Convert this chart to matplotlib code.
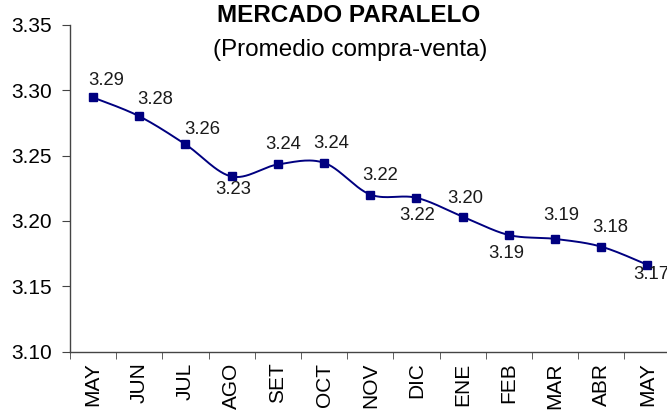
import numpy as np
import matplotlib
matplotlib.use("Agg")
import matplotlib.pyplot as plt

months = ["MAY", "JUN", "JUL", "AGO", "SET", "OCT", "NOV", "DIC", "ENE", "FEB", "MAR", "ABR", "MAY"]
values = [3.2945, 3.2801, 3.2586, 3.2340, 3.2432, 3.2445, 3.2202, 3.2177, 3.2033, 3.1892, 3.1862, 3.1803, 3.1664]
yticks = [3.10, 3.15, 3.20, 3.25, 3.30, 3.35]

# label placement offsets (pixels, relative to each point)
label_dx = [13, 16, 17, 2, 5, 7, 10, 1, 3, -3, 6, 9, 4]
label_dy = [17, 17, 15, -13.5, 19.5, 19.5, 19.5, -17.5, 18.5, -18.5, 23, 19.5, -10]

W, H = 667, 412
fig = plt.figure(figsize=(W / 100, H / 100), dpi=100)
ax = fig.add_axes([70 / W, 1 - 351.5 / H, 600.5 / W, (351.5 - 25) / H])

x = np.arange(len(values))
y = np.array(values)

# Excel-like smoothed line (Bezier/Catmull-Rom through the data points)
def smooth(xp, yp, n=30):
    P = np.column_stack([xp, yp]).astype(float)
    P = np.vstack([P[0], P, P[-1]])
    out = []
    t = np.linspace(0, 1, n)
    for i in range(1, len(P) - 2):
        p0, p1, p2, p3 = P[i - 1], P[i], P[i + 1], P[i + 2]
        c1 = p1 + (p2 - p0) / 6
        c2 = p2 - (p3 - p1) / 6
        seg = ((1 - t) ** 3)[:, None] * p1 + (3 * (1 - t) ** 2 * t)[:, None] * c1 \
            + (3 * (1 - t) * t ** 2)[:, None] * c2 + (t ** 3)[:, None] * p2
        out.append(seg if i == 1 else seg[1:])
    s = np.vstack(out)
    return s[:, 0], s[:, 1]

sx, sy = smooth(x, y)
ax.plot(sx, sy, color="#000080", lw=1.4, zorder=2, clip_on=False)
ax.plot(x, y, ls="none", marker="s", ms=5.5, color="#000080", zorder=3, clip_on=False)

for xi, yi, dx, dy in zip(x, y, label_dx, label_dy):
    ax.annotate(f"{yi:.2f}", (xi, yi), xytext=(dx, dy), textcoords="offset pixels",
                ha="center", va="center", fontsize=13.3, family="Liberation Sans",
                color="#1a1a1a", zorder=4, annotation_clip=False)

ax.set_xlim(-0.5, len(values) - 0.5)
ax.set_ylim(3.10, 3.35)
ax.set_yticks(yticks)
ax.set_yticklabels([f"{v:.2f}" for v in yticks], fontsize=15, family="Liberation Sans")
ax.set_xticks(x)
ax.set_xticklabels(months, rotation=90, fontsize=15, family="Liberation Sans")
ax.set_xticks(np.arange(len(values) + 1) - 0.5, minor=True)
ax.tick_params(axis="x", which="major", length=0, pad=8)
ax.tick_params(axis="x", which="minor", length=5, color="#444444")
ax.tick_params(axis="y", length=6, color="#444444", pad=7)
for s in ["top", "right"]:
    ax.spines[s].set_visible(False)
for s in ["left", "bottom"]:
    ax.spines[s].set_color("#444444")
    ax.spines[s].set_linewidth(1.0)

fig.text(349 / W, 1 - 16 / H, "MERCADO PARALELO", ha="center", va="center", fontsize=17.5,
         fontweight="bold", family="Liberation Sans")
fig.text(350 / W, 1 - 50 / H, "(Promedio compra-venta)", ha="center", va="center", fontsize=17.5,
         family="Liberation Sans")

fig.savefig("out.png", dpi=100)
